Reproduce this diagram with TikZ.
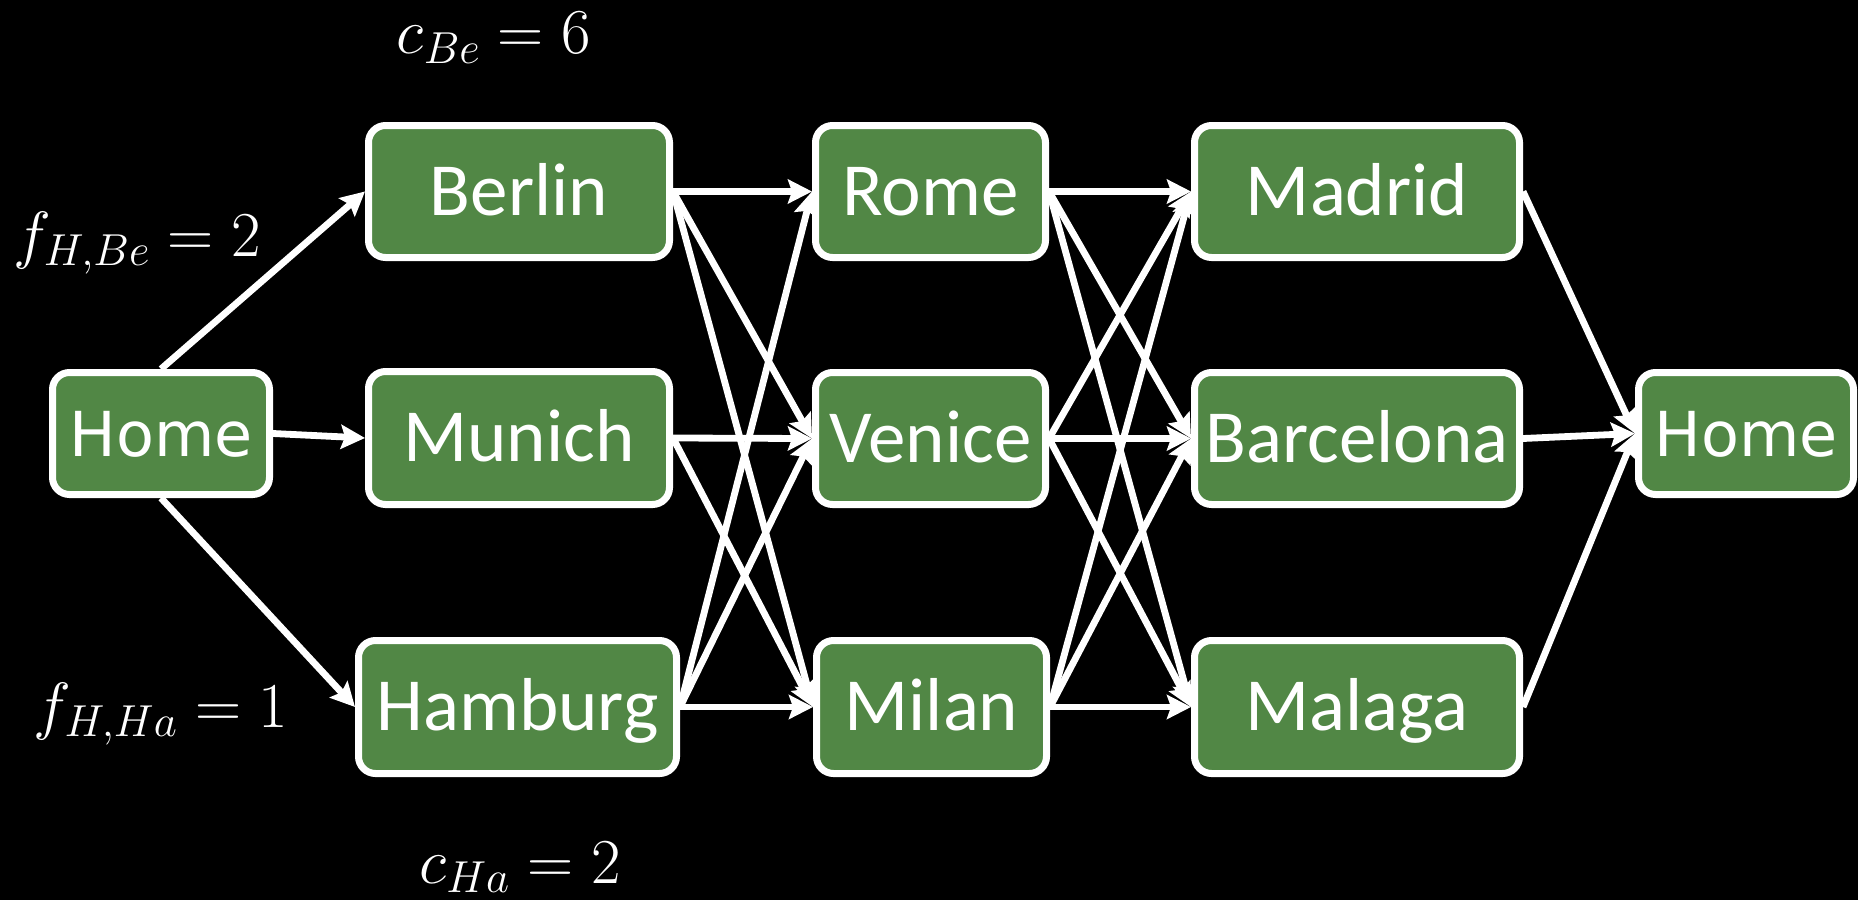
\RequirePackage{fix-cm}
\documentclass[tikz,border=0pt]{standalone}
\usepackage{fontspec}
\setmainfont{Carlito}
\newfontfamily\homefont{DejaVu Sans}
\usetikzlibrary{arrows.meta}
\definecolor{nodegreen}{RGB}{81,135,69}
\tikzset{
  city/.style={draw=white, line width=7pt, fill=nodegreen, rounded corners=17pt,
    inner sep=0pt, text=white, font=\fontsize{75}{90}\selectfont,
    text height=47pt, text depth=0pt},
  homebox/.style={city, font=\homefont\fontsize{62}{75}\selectfont, text height=45pt},
  edge/.style={draw=white, line width=6.8pt, -{Stealth[length=24pt,width=24pt,inset=4pt]}},
  lbl/.style={text=white, anchor=base, inner sep=0pt, font=\fontsize{64}{77}\selectfont},
}
\begin{document}
\begin{tikzpicture}[x=1pt, y=-1pt]
  \fill[black] (0,0) rectangle (1858,900);
  \useasboundingbox (0,0) rectangle (1858,900);

  % column 0
  \node[homebox, minimum width=217pt, minimum height=122pt] (h0) at (161,433.5) {Home};
  % column 1
  \node[city, minimum width=301pt, minimum height=132pt] (berlin) at (519,191.5) {Berlin};
  \node[city, minimum width=301pt, minimum height=133pt] (munich) at (519,438) {Munich};
  \node[city, minimum width=318pt, minimum height=133pt] (hamburg) at (517.5,707) {Hamburg};
  % column 2
  \node[city, minimum width=230pt, minimum height=132pt] (rome) at (930.5,191.5) {Rome};
  \node[city, minimum width=230pt, minimum height=132pt] (venice) at (930.5,438.5) {Venice};
  \node[city, minimum width=230pt, minimum height=133pt] (milan) at (931.5,707) {Milan};
  % column 3
  \node[city, minimum width=325pt, minimum height=132pt] (madrid) at (1357,191.5) {Madrid};
  \node[city, minimum width=325pt, minimum height=132pt] (barcelona) at (1357,438.5) {Barcelona};
  \node[city, minimum width=325pt, minimum height=133pt] (malaga) at (1357,707) {Malaga};
  % column 4
  \node[homebox, minimum width=215pt, minimum height=122pt] (h1) at (1746,433.5) {Home};

  % labels
  \node[lbl] (cbe) at (494,53.5) {$c_{Be} = 6$};
  \node[lbl] (fhbe) at (137,256) {$f_{H,Be} = 2$};
  \node[lbl] (fhha) at (161,727) {$f_{H,Ha} = 1$};
  \node[lbl] (cha) at (520,883) {$c_{Ha} = 2$};

  % edges: home -> column 1
  \draw[edge] (h0.north) -- (berlin.west);
  \draw[edge] (h0.east) -- (munich.west);
  \draw[edge] (h0.south) -- (hamburg.west);
  % column 1 -> column 2
  \draw[edge] (berlin.east) -- (rome.west);
  \draw[edge] (berlin.east) -- (venice.west);
  \draw[edge] (berlin.east) -- (milan.west);
  \draw[edge] (munich.east) -- (venice.west);
  \draw[edge] (munich.east) -- (milan.west);
  \draw[edge] (hamburg.east) -- (rome.west);
  \draw[edge] (hamburg.east) -- (venice.west);
  \draw[edge] (hamburg.east) -- (milan.west);
  % column 2 -> column 3
  \foreach \a in {rome,venice,milan}
    \foreach \b in {madrid,barcelona,malaga}
      \draw[edge] (\a.east) -- (\b.west);
  % column 3 -> home
  \draw[edge] (madrid.east) -- (h1.west);
  \draw[edge] (barcelona.east) -- (h1.west);
  \draw[edge] (malaga.east) -- (h1.west);
\end{tikzpicture}
\end{document}
